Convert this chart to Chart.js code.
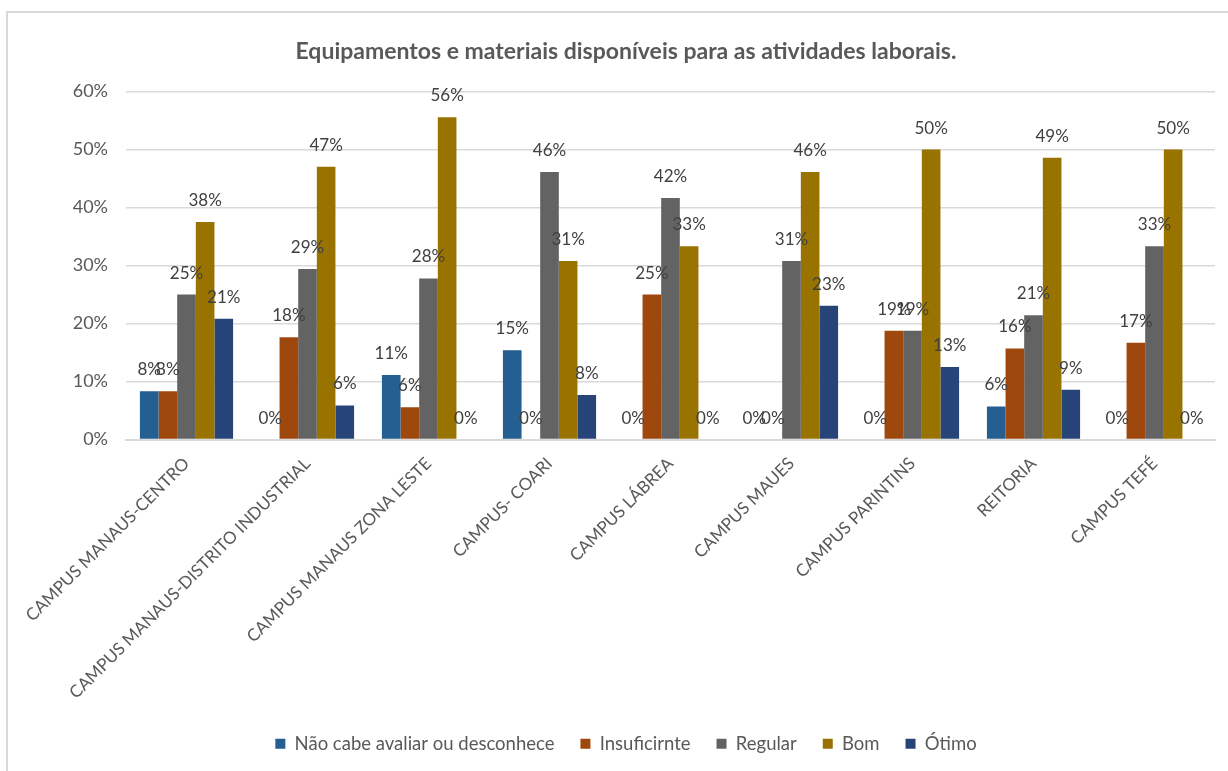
<!DOCTYPE html>
<html>
<head>
<meta charset="utf-8">
<script src="https://cdn.jsdelivr.net/npm/chart.js@4"></script>
<style>
  html, body { margin: 0; padding: 0; background: #fff; }
  #wrap { position: relative; width: 1228px; height: 771px; }
</style>
</head>
<body>
<div id="wrap"><canvas id="chartEquip" width="1228" height="771"></canvas></div>
<script>
// categorias e séries (valores em %)
const campi = [
    'CAMPUS MANAUS-CENTRO',
    'CAMPUS MANAUS-DISTRITO INDUSTRIAL',
    'CAMPUS MANAUS ZONA LESTE',
    'CAMPUS- COARI',
    'CAMPUS LÁBREA',
    'CAMPUS MAUES',
    'CAMPUS PARINTINS',
    'REITORIA',
    'CAMPUS TEFÉ'
];
const naoCabe     = [8.33, 0, 11.11, 15.38, 0, 0, 0, 5.71, 0];
const insuficiente = [8.33, 17.65, 5.56, 0, 25, 0, 18.75, 15.71, 16.67];
const regular     = [25, 29.41, 27.78, 46.15, 41.67, 30.77, 18.75, 21.43, 33.33];
const bom         = [37.5, 47.06, 55.56, 30.77, 33.33, 46.15, 50, 48.57, 50];
const otimo       = [20.83, 5.88, 0, 7.69, 0, 23.08, 12.5, 8.57, 0];
const yTicks      = [0, 10, 20, 30, 40, 50, 60];

const fontFam = 'Lato, "Liberation Sans", sans-serif';
const textColor = '#595959';

// moldura cinza do gráfico
const frame = {
    id: 'frame',
    beforeDraw(chart) {
        const c = chart.ctx;
        c.save();
        c.strokeStyle = '#d9d9d9';
        c.lineWidth = 2;
        c.beginPath();
        c.moveTo(7, 771);
        c.lineTo(7, 12);
        c.lineTo(1228, 12);
        c.stroke();
        c.restore();
    }
};

// rótulos de dados acima das barras
const barLabels = {
    id: 'barLabels',
    afterDatasetsDraw(chart) {
        const c = chart.ctx;
        c.save();
        c.font = '17px ' + fontFam;
        c.fillStyle = '#404040';
        c.textAlign = 'center';
        c.textBaseline = 'alphabetic';
        chart.data.datasets.forEach((ds, i) => {
            const meta = chart.getDatasetMeta(i);
            meta.data.forEach((bar, j) => {
                c.fillText(Math.round(ds.data[j]) + '%', bar.x, bar.y - 16);
            });
        });
        c.restore();
    }
};

const ctx = document.getElementById('chartEquip').getContext('2d');
const chart = new Chart(ctx, {
    type: 'bar',
    plugins: [frame, barLabels],
    data: {
        labels: campi,
        datasets: [
            { label: 'Não cabe avaliar ou desconhece', data: naoCabe, backgroundColor: '#255E91' },
            { label: 'Insuficirnte', data: insuficiente, backgroundColor: '#9E480E' },
            { label: 'Regular', data: regular, backgroundColor: '#636363' },
            { label: 'Bom', data: bom, backgroundColor: '#997300' },
            { label: 'Ótimo', data: otimo, backgroundColor: '#264478' }
        ]
    },
    options: {
        responsive: false,
        animation: false,
        layout: { padding: { left: 37, right: 13, top: 0, bottom: 8 } },
        datasets: {
            bar: { categoryPercentage: 0.77, barPercentage: 1.0 }
        },
        plugins: {
            title: {
                display: true,
                text: 'Equipamentos e materiais disponíveis para as atividades laborais.',
                color: textColor,
                font: { family: fontFam, size: 23, weight: 'bold' },
                padding: { top: 38, bottom: 26 }
            },
            legend: {
                position: 'bottom',
                labels: {
                    color: textColor,
                    font: { family: fontFam, size: 18.5 },
                    boxWidth: 10,
                    boxHeight: 10,
                    padding: 26
                }
            },
            tooltip: { enabled: false }
        },
        scales: {
            x: {
                grid: { display: false },
                border: { color: '#d9d9d9', width: 2 },
                ticks: {
                    color: textColor,
                    font: { family: fontFam, size: 17 },
                    maxRotation: 45,
                    minRotation: 45,
                    autoSkip: false,
                    padding: 6
                },
                afterFit(scale) { scale.height = 269; }
            },
            y: {
                min: 0,
                max: 60,
                afterBuildTicks(scale) { scale.ticks = yTicks.map(v => ({ value: v })); },
                grid: { color: '#d9d9d9', lineWidth: 1.5, drawTicks: false },
                border: { display: false },
                ticks: {
                    color: textColor,
                    font: { family: fontFam, size: 18 },
                    padding: 18,
                    callback: v => v + '%'
                },
                afterFit(scale) { scale.width = 89; }
            }
        }
    }
});
</script>
</body>
</html>
